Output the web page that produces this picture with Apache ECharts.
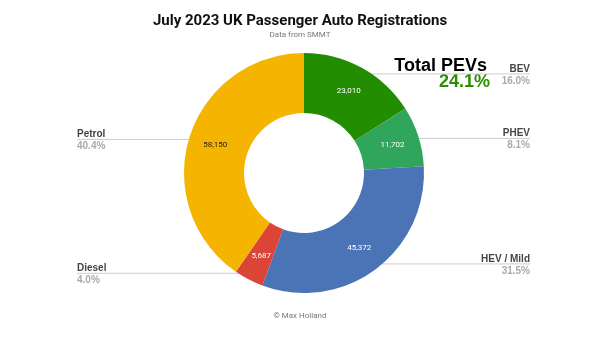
<!DOCTYPE html>
<html><head><meta charset="utf-8">
<script src="https://cdn.jsdelivr.net/npm/echarts@6/dist/echarts.min.js"></script>
<style>html,body{margin:0;padding:0;background:#fff}#c{width:600px;height:337px}</style>
</head><body><div id="c"></div>
<script>
const categories = ['BEV', 'PHEV', 'HEV / Mild', 'Diesel', 'Petrol'];
const registrations = [23010, 11702, 45372, 5687, 58150];
const sliceColors = ['#238d00', '#2fa65c', '#4a74b6', '#dc4437', '#f4b400'];
const valueLabelColors = ['#ffffff', '#ffffff', '#ffffff', '#ffffff', '#222222'];
const totalPEVShare = '24.1%';

const total = registrations.reduce((a, b) => a + b, 0);
const CX = 304, CY = 173, R_IN = 60, R_OUT = 120;
const RIGHT_EDGE = 530, LEFT_EDGE = 77;

const data = categories.map((n, i) => ({
  name: n, value: registrations[i],
  itemStyle: { color: sliceColors[i] },
  label: { color: valueLabelColors[i] }
}));

const chart = echarts.init(document.getElementById('c'), null, { renderer: 'canvas' });
chart.setOption({
  animation: false,
  backgroundColor: '#fff',
  title: {
    text: 'July 2023 UK Passenger Auto Registrations',
    subtext: 'Data from SMMT',
    left: 'center', top: 9, itemGap: 2,
    textStyle: { fontFamily: 'Roboto', fontWeight: 'bold', fontSize: 15, color: '#111' },
    subtextStyle: { fontFamily: 'Roboto', fontSize: 8, color: '#777' }
  },
  graphic: [
    { type: 'text', right: 113, top: 57, style: { text: 'Total PEVs', font: 'bold 18px "Liberation Sans", Arial', fill: '#000', textAlign: 'right' } },
    { type: 'text', right: 110, top: 73, style: { text: totalPEVShare, font: 'bold 18px "Liberation Sans", Arial', fill: '#2a8f00', textAlign: 'right' } },
    { type: 'text', left: 'center', top: 312, style: { text: '© Max Holland', font: '8px Roboto', fill: '#777' } }
  ],
  series: [
    {
      type: 'pie', center: [CX, CY], radius: [R_IN, R_OUT],
      startAngle: 90, clockwise: true, silent: true,
      data: data,
      label: {
        position: 'inside', fontFamily: 'Roboto', fontSize: 8,
        formatter: p => p.value.toLocaleString('en-US')
      },
      labelLine: { show: false }
    },
    {
      type: 'pie', center: [CX, CY], radius: [R_IN, R_OUT],
      startAngle: 90, clockwise: true, silent: true,
      data: categories.map((n, i) => ({ name: n, value: registrations[i] })),
      itemStyle: { color: 'rgba(0,0,0,0)' },
      label: {
        position: 'outer',
        formatter: p => '{n|' + p.name + '}\n{p|' + (p.value / total * 100).toFixed(1) + '%}',
        rich: {
          n: { fontFamily: '"Liberation Sans", Arial', fontWeight: 'bold', fontSize: 10, color: '#444', lineHeight: 12 },
          p: { fontFamily: '"Liberation Sans", Arial', fontWeight: 'bold', fontSize: 10, color: '#aaa', lineHeight: 12 }
        }
      },
      labelLine: { show: true, length: 10, length2: 10, lineStyle: { color: '#cccccc', width: 1 } },
      labelLayout: function (params) {
        const p0 = params.labelLinePoints[0];
        const dx = p0[0] - CX, dy = p0[1] - CY;
        const d = Math.sqrt(dx * dx + dy * dy);
        const k = 113 / d;
        const sx = CX + dx * k, sy = CY + dy * k;
        const right = dx >= 0;
        const ex = right ? RIGHT_EDGE : LEFT_EDGE;
        return {
          x: ex, y: sy + 1, align: right ? 'right' : 'left', verticalAlign: 'middle',
          labelLinePoints: [[sx, sy], [ex, sy], [ex, sy]]
        };
      }
    }
  ]
});
</script></body></html>
